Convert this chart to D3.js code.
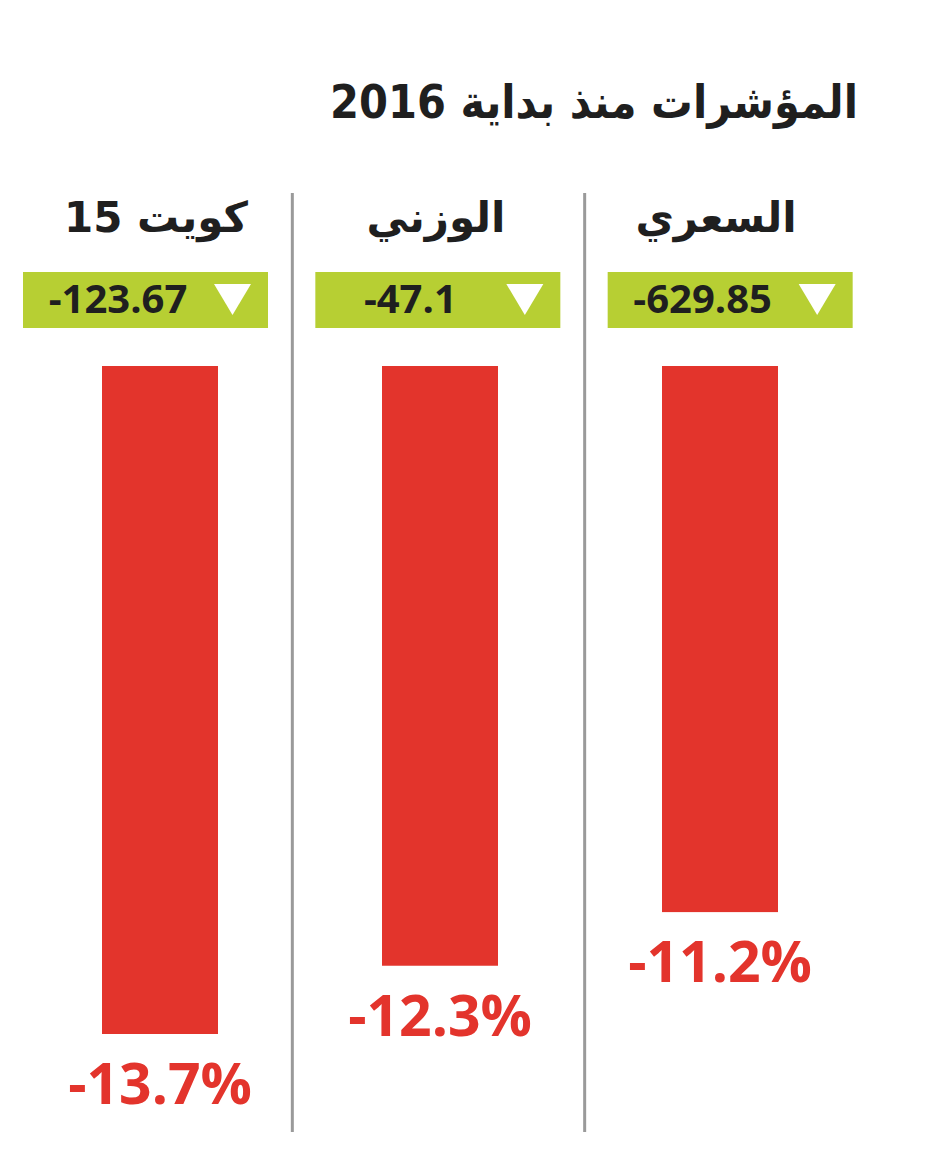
<!DOCTYPE html>
<html>
<head>
<meta charset="utf-8">
<script src="https://cdn.jsdelivr.net/npm/d3@7"></script>
<style>
  body { margin: 0; background: #fff; }
  svg { display: block; }
</style>
</head>
<body>
<svg id="chart" width="945" height="1176"></svg>
<script>
// columns, left to right as printed
const categories = ["كويت 15", "الوزني", "السعري"];
const pointChange = [-123.67, -47.1, -629.85];
const pctChange = [-13.7, -12.3, -11.2];
const title = "المؤشرات منذ بداية 2016";

const rows = categories.map((c, i) => ({ name: c, pts: pointChange[i], pct: pctChange[i] }));

const svg = d3.select("#chart");
const red = "#e3342c", green = "#b7cf33", ink = "#1f1f1f";

// column bands (separators sit on the band edges)
const col = d3.scaleBand().domain(categories).range([0, 877]);
// bars
const xBar = d3.scaleBand().domain(categories).range([102, 778]).paddingInner(164 / 280).paddingOuter(0);
// bar length from the top line down
const y = d3.scaleLinear().domain([0, -13.7]).range([366, 1034]);

svg.append("text")
    .attr("x", 594).attr("y", 118)
    .attr("text-anchor", "middle")
    .attr("font-family", "DejaVu Sans")
    .attr("font-weight", "bold")
    .attr("font-size", 46)
    .attr("textLength", 528)
    .attr("lengthAdjust", "spacingAndGlyphs")
    .attr("fill", ink)
    .text(title);

// separators
svg.append("g").selectAll("line")
  .data(categories.slice(1))
  .join("line")
    .attr("x1", d => col(d)).attr("x2", d => col(d))
    .attr("y1", 193).attr("y2", 1132)
    .attr("stroke", "#9a9a9a")
    .attr("stroke-width", 3);

const g = svg.append("g").selectAll("g")
  .data(rows)
  .join("g");

// column headers
g.append("text")
    .attr("x", d => xBar(d.name) + xBar.bandwidth() / 2 - 4)
    .attr("y", 232)
    .attr("text-anchor", "middle")
    .attr("font-family", "DejaVu Sans")
    .attr("font-weight", "bold")
    .attr("font-size", 42)
    .attr("fill", ink)
    .text(d => d.name);

// green change boxes
g.append("rect")
    .attr("x", d => col(d.name) + 23)
    .attr("y", 272)
    .attr("width", 245)
    .attr("height", 56)
    .attr("fill", green);

g.append("text")
    .attr("x", d => col(d.name) + 27 + 91)
    .attr("y", 313)
    .attr("text-anchor", "middle")
    .attr("font-family", "Open Sans")
    .attr("font-weight", "bold")
    .attr("font-size", 40)
    .attr("fill", ink)
    .text(d => d.pts);

g.append("path")
    .attr("d", d => {
      const r = col(d.name) + 23 + 245 - 17;
      return `M${r - 37},284 L${r},284 L${r - 18.5},315 Z`;
    })
    .attr("fill", "#fff");

// bars
g.append("rect")
    .attr("x", d => xBar(d.name))
    .attr("y", y(0))
    .attr("width", xBar.bandwidth())
    .attr("height", d => y(d.pct) - y(0))
    .attr("fill", red);

g.append("text")
    .attr("x", d => xBar(d.name) + xBar.bandwidth() / 2)
    .attr("y", d => y(d.pct) + 70)
    .attr("text-anchor", "middle")
    .attr("font-family", "Open Sans")
    .attr("font-weight", "bold")
    .attr("font-size", 57)
    .attr("fill", red)
    .text(d => d.pct.toFixed(1) + "%");
</script>
</body>
</html>
